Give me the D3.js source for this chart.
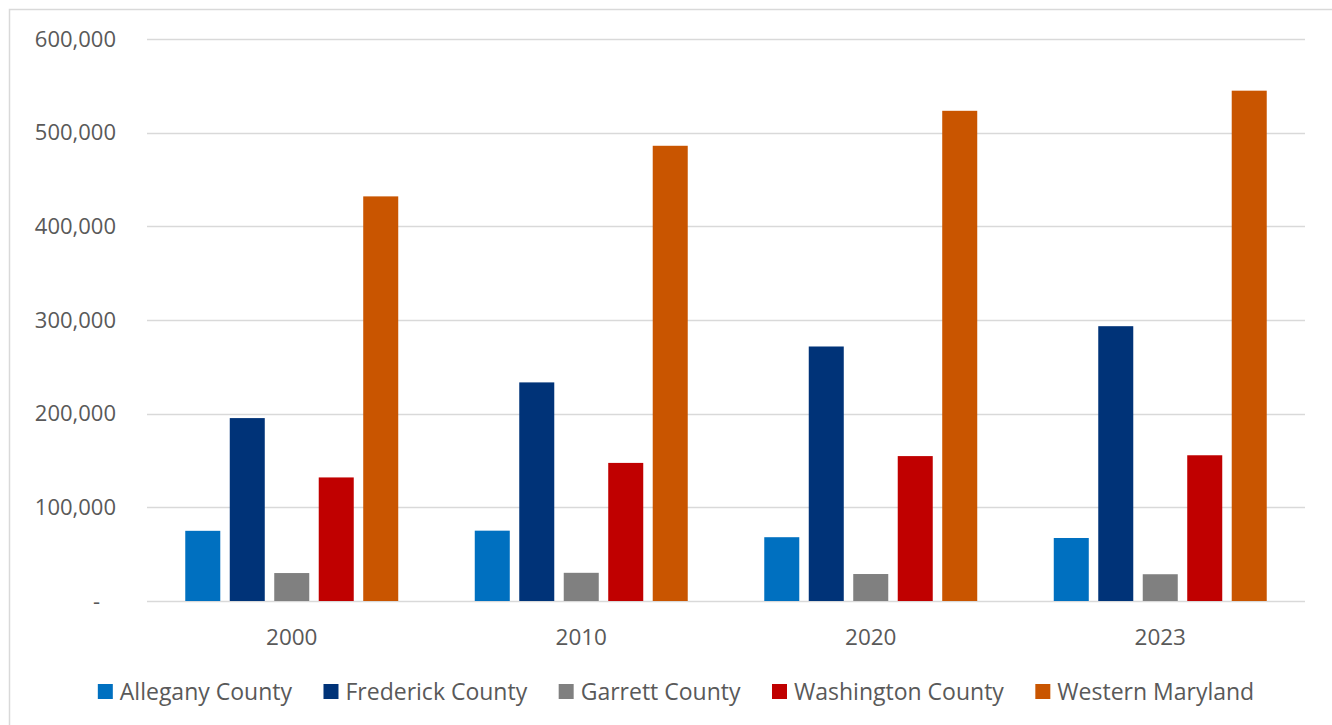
<!DOCTYPE html>
<html><head><meta charset="utf-8">
<script src="https://cdn.jsdelivr.net/npm/d3@7"></script>
<style>html,body{margin:0;padding:0;background:#fff;overflow:hidden}</style>
</head><body><svg id="c" width="1332" height="725"></svg>
<script>
const years = ["2000", "2010", "2020", "2023"];
const seriesNames = ["Allegany County", "Frederick County", "Garrett County", "Washington County", "Western Maryland"];
const allegany = [74930, 75087, 68106, 67267];
const frederick = [195277, 233385, 271717, 293391];
const garrett = [29846, 30097, 28806, 28579];
const washington = [131923, 147430, 154705, 155590];
const western = [431976, 485999, 523334, 544827];
const yTicks = [0, 100000, 200000, 300000, 400000, 500000, 600000];
const colors = ["#0070C0", "#003378", "#808080", "#C00000", "#C95500"];

const values = [allegany, frederick, garrett, washington, western];
const font = "'Open Sans', sans-serif";
const textColor = "#595959";
const svg = d3.select("#c");

svg.append("rect").attr("x", 9.5).attr("y", 9.5).attr("width", 1340).attr("height", 740)
  .attr("fill", "#fff").attr("stroke", "#D9D9D9").attr("stroke-width", 1.5);

const pLeft = 147, pRight = 1305, pTop = 39, pBottom = 601;
const y = d3.scaleLinear().domain([0, 600000]).range([pBottom, pTop]);
const x0 = d3.scaleBand().domain(years).range([pLeft, pRight]).padding(0);
const x1 = d3.scaleBand().domain(seriesNames).range([0, x0.bandwidth()]).paddingInner(0.213).paddingOuter(0.86);

// gridlines
svg.append("g").selectAll("line").data(yTicks).join("line")
  .attr("x1", pLeft).attr("x2", pRight)
  .attr("y1", d => Math.round(y(d)) + 0.5).attr("y2", d => Math.round(y(d)) + 0.5)
  .attr("stroke", "#D9D9D9").attr("stroke-width", 1.3);

// y labels
svg.append("g").selectAll("text").data(yTicks).join("text")
  .attr("x", d => d === 0 ? 100 : 116)
  .attr("y", d => y(d))
  .attr("dy", "0.35em")
  .attr("text-anchor", "end")
  .attr("font-family", font).attr("font-size", 22).attr("fill", textColor)
  .text(d => d === 0 ? "-" : d3.format(",")(d));

// bars
const groups = svg.append("g").selectAll("g").data(years).join("g")
  .attr("transform", d => `translate(${x0(d)},0)`);
groups.selectAll("rect").data((d, i) => seriesNames.map((s, j) => ({s, v: values[j][i], j})))
  .join("rect")
  .attr("x", d => x1(d.s))
  .attr("width", x1.bandwidth())
  .attr("y", d => y(d.v))
  .attr("height", d => y(0) - y(d.v))
  .attr("fill", d => colors[d.j]);

// x labels
svg.append("g").selectAll("text").data(years).join("text")
  .attr("x", d => x0(d) + x0.bandwidth() / 2)
  .attr("y", 637)
  .attr("dy", "0.35em")
  .attr("text-anchor", "middle")
  .attr("font-family", font).attr("font-size", 22.5).attr("fill", textColor)
  .text(d => d);

// legend
const lg = svg.append("g");
const items = lg.selectAll("g").data(seriesNames).join("g");
items.append("rect").attr("width", 15).attr("height", 15).attr("y", 684)
  .attr("fill", (d, i) => colors[i]);
items.append("text").attr("x", 22).attr("y", 691.5).attr("dy", "0.35em")
  .attr("font-family", font).attr("font-size", 23).attr("fill", textColor)
  .text(d => d);
const widths = [];
items.each(function () { widths.push(this.getBBox().width); });
const gap = 31;
const total = d3.sum(widths) + gap * (widths.length - 1);
let cx = 676 - total / 2;
items.attr("transform", (d, i) => { const t = `translate(${cx},0)`; cx += widths[i] + gap; return t; });
</script></body></html>
